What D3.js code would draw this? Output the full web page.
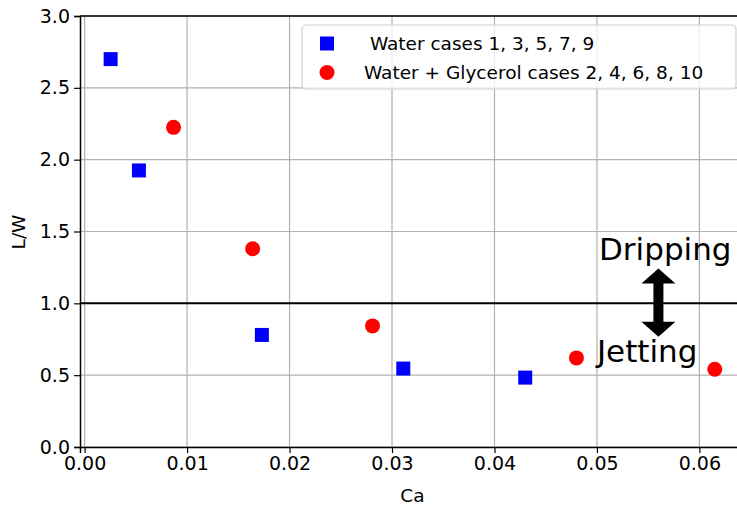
<!DOCTYPE html>
<html>
<head>
<meta charset="utf-8">
<script src="https://cdn.jsdelivr.net/npm/d3@7"></script>
<style>
  body { margin: 0; background: #fff; }
  svg { display: block; font-family: "DejaVu Sans", sans-serif; }
</style>
</head>
<body>
<div id="chart"></div>
<script>
// data
var waterCa = [0.00254, 0.0053, 0.0173, 0.0311, 0.0430];
var waterLW = [2.70, 1.925, 0.78, 0.546, 0.483];
var glyCa = [0.00868, 0.0164, 0.0281, 0.0480, 0.0615];
var glyLW = [2.225, 1.38, 0.843, 0.62, 0.541];
var xTicks = [0, 0.01, 0.02, 0.03, 0.04, 0.05, 0.06];
var yTicks = [0, 0.5, 1.0, 1.5, 2.0, 2.5, 3.0];
var seriesNames = [" Water cases 1, 3, 5, 7, 9", "Water + Glycerol cases 2, 4, 6, 8, 10"];
var regimeLabels = ["Dripping", "Jetting"];

drawChart();

function drawChart() {
    var width = 737, height = 505;
    var mLeft = 80, mRight = 745, mTop = 16, mBottom = 447;

    var x = d3.scaleLinear().domain([-0.00045, 0.06445]).range([mLeft, mRight]);
    var y = d3.scaleLinear().domain([0, 3]).range([mBottom, mTop]);

    var svg = d3.select("#chart").append("svg")
        .attr("width", width)
        .attr("height", height);

    // grid
    svg.append("g").selectAll("line")
        .data(xTicks)
        .enter().append("line")
        .attr("x1", function(d) { return x(d); })
        .attr("x2", function(d) { return x(d); })
        .attr("y1", mTop)
        .attr("y2", mBottom)
        .attr("stroke", "#b0b0b0")
        .attr("stroke-width", 1.2);

    svg.append("g").selectAll("line")
        .data(yTicks)
        .enter().append("line")
        .attr("x1", mLeft)
        .attr("x2", mRight)
        .attr("y1", function(d) { return y(d); })
        .attr("y2", function(d) { return y(d); })
        .attr("stroke", "#b0b0b0")
        .attr("stroke-width", 1.2);

    // threshold line at L/W = 1
    svg.append("line")
        .attr("x1", mLeft)
        .attr("x2", mRight)
        .attr("y1", y(1))
        .attr("y2", y(1))
        .attr("stroke", "#000")
        .attr("stroke-width", 2);

    // axes
    var xAxis = svg.append("g")
        .attr("transform", "translate(0," + mBottom + ")")
        .call(d3.axisBottom(x).tickValues(xTicks).tickFormat(d3.format(".2f")).tickSize(6).tickPadding(4));
    var yAxis = svg.append("g")
        .attr("transform", "translate(" + mLeft + ",0)")
        .call(d3.axisLeft(y).tickValues(yTicks).tickFormat(d3.format(".1f")).tickSize(6).tickPadding(4));

    [xAxis, yAxis].forEach(function(a) {
        a.selectAll("text")
            .style("font-family", "DejaVu Sans")
            .style("font-size", "19px")
            .attr("fill", "#000");
        a.selectAll("line").attr("stroke", "#000").attr("stroke-width", 1.2);
        a.select(".domain").attr("stroke", "#000").attr("stroke-width", 1.5);
    });

    // top spine
    svg.append("line")
        .attr("x1", mLeft).attr("x2", mRight)
        .attr("y1", mTop).attr("y2", mTop)
        .attr("stroke", "#000").attr("stroke-width", 1.5);

    // axis labels
    svg.append("text")
        .attr("x", (mLeft + mRight) / 2)
        .attr("y", 502)
        .attr("text-anchor", "middle")
        .style("font-size", "18.5px")
        .text("Ca");

    svg.append("text")
        .attr("transform", "translate(25," + 232 + ") rotate(-90)")
        .attr("text-anchor", "middle")
        .style("font-size", "18.5px")
        .text("L/W");

    // points
    var water = waterCa.map(function(d, i) { return {ca: d, lw: waterLW[i]}; });
    var gly = glyCa.map(function(d, i) { return {ca: d, lw: glyLW[i]}; });
    var sq = 14;

    svg.append("g").selectAll("rect")
        .data(water)
        .enter().append("rect")
        .attr("x", function(d) { return x(d.ca) - sq / 2; })
        .attr("y", function(d) { return y(d.lw) - sq / 2; })
        .attr("width", sq)
        .attr("height", sq)
        .attr("fill", "#0000ff");

    svg.append("g").selectAll("circle")
        .data(gly)
        .enter().append("circle")
        .attr("cx", function(d) { return x(d.ca); })
        .attr("cy", function(d) { return y(d.lw); })
        .attr("r", 7.5)
        .attr("fill", "#ff0000");

    // regime annotation
    var arrowCa = 0.0560, arrowTop = 1.243, arrowBot = 0.767;
    var ax = x(arrowCa), ay1 = y(arrowTop), ay2 = y(arrowBot);
    var hw = 17, hl = 15, sw = 5;
    svg.append("path")
        .attr("d", "M" + ax + "," + ay1 +
            "L" + (ax + hw) + "," + (ay1 + hl) +
            "L" + (ax + sw) + "," + (ay1 + hl) +
            "L" + (ax + sw) + "," + (ay2 - hl) +
            "L" + (ax + hw) + "," + (ay2 - hl) +
            "L" + ax + "," + ay2 +
            "L" + (ax - hw) + "," + (ay2 - hl) +
            "L" + (ax - sw) + "," + (ay2 - hl) +
            "L" + (ax - sw) + "," + (ay1 + hl) +
            "L" + (ax - hw) + "," + (ay1 + hl) + "Z")
        .attr("fill", "#000");

    svg.append("text")
        .attr("x", x(0.0502))
        .attr("y", y(1.30))
        .style("font-size", "31px")
        .text(regimeLabels[0]);

    svg.append("text")
        .attr("x", x(0.0500))
        .attr("y", y(0.592))
        .style("font-size", "31px")
        .text(regimeLabels[1]);

    // legend
    var lg = svg.append("g");
    lg.append("rect")
        .attr("x", 302)
        .attr("y", 25)
        .attr("width", 434)
        .attr("height", 64)
        .attr("rx", 4)
        .attr("fill", "#fff")
        .attr("fill-opacity", 0.8)
        .attr("stroke", "#d0d0d0")
        .attr("stroke-width", 1.2);

    lg.append("rect")
        .attr("x", 327 - sq / 2)
        .attr("y", 43.5 - sq / 2)
        .attr("width", sq)
        .attr("height", sq)
        .attr("fill", "#0000ff");

    lg.append("circle")
        .attr("cx", 327)
        .attr("cy", 72.5)
        .attr("r", 7.5)
        .attr("fill", "#ff0000");

    lg.selectAll("text")
        .data(seriesNames)
        .enter().append("text")
        .attr("x", 364)
        .attr("y", function(d, i) { return 49.5 + i * 29.5; })
        .style("font-size", "18.5px")
        .style("white-space", "pre")
        .attr("xml:space", "preserve")
        .text(function(d) { return d; });
}
</script>
</body>
</html>
